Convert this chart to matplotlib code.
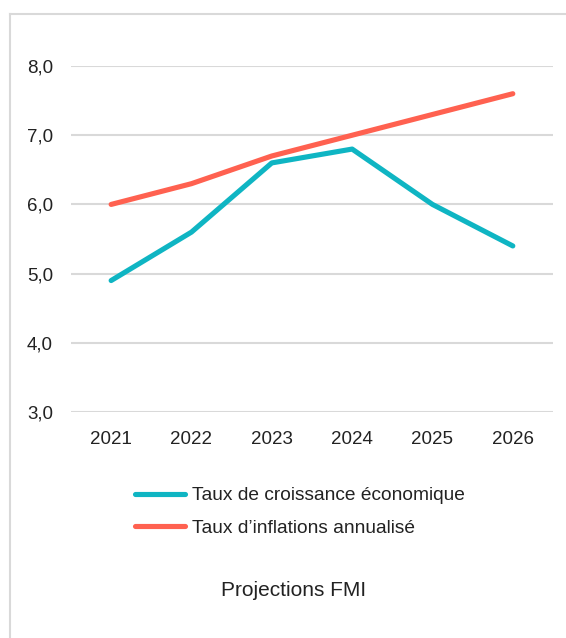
import matplotlib.pyplot as plt
from matplotlib.lines import Line2D

# IMF projections: GDP growth vs. annualised inflation
years = ["2021", "2022", "2023", "2024", "2025", "2026"]
croissance = [4.9, 5.6, 6.6, 6.8, 6.0, 5.4]
inflation = [6.0, 6.3, 6.7, 7.0, 7.3, 7.6]
y_ticks = [3.0, 4.0, 5.0, 6.0, 7.0, 8.0]
y_labels = ["3,0", "4,0", "5,0", "6,0", "7,0", "8,0"]

teal = "#0FB5C3"
coral = "#FF6150"
grid_c = "#D9D9D9"
text_c = "#222222"

plt.rcParams["font.family"] = ["Liberation Sans", "DejaVu Sans"]

fig = plt.figure(figsize=(5.66, 6.38), dpi=100)
ax = fig.add_axes([0.1254, 0.3542, 0.8516, 0.5423])

x = range(len(years))
ax.plot(x, croissance, color=teal, lw=3.7, solid_capstyle="round", zorder=3,
        label="Taux de croissance économique")
ax.plot(x, inflation, color=coral, lw=3.7, solid_capstyle="round", zorder=3,
        label="Taux d\u2019inflations annualisé")

ax.set_xlim(-0.5, len(years) - 0.5)
ax.set_ylim(3.0, 8.0)
ax.set_xticks(list(x))
ax.set_xticklabels(years)
ax.set_yticks(y_ticks)
ax.set_yticklabels(y_labels)
ax.tick_params(length=0, labelsize=13.5, colors=text_c)
ax.tick_params(axis="x", pad=14)
ax.tick_params(axis="y", pad=13)
for s in ax.spines.values():
    s.set_visible(False)
ax.grid(axis="y", color=grid_c, lw=1.5, zorder=0)
ax.set_axisbelow(True)

fig.legend(loc="upper left", bbox_to_anchor=(135 / 566, 1 - 487 / 638), frameon=False,
           fontsize=13.8, handlelength=2.6, handletextpad=0.36,
           labelspacing=0.78, labelcolor=text_c, borderaxespad=0, borderpad=0)

fig.text(294 / 566, 1 - 590 / 638, "Projections FMI", ha="center", va="center",
         fontsize=15, color=text_c)

# light frame on the left and top edges
fig.add_artist(Line2D([10 / 566, 10 / 566], [0, 1 - 14 / 638],
                      transform=fig.transFigure, color=grid_c, lw=1.5))
fig.add_artist(Line2D([10 / 566, 1], [1 - 14 / 638, 1 - 14 / 638],
                      transform=fig.transFigure, color=grid_c, lw=1.5))

fig.savefig("out.png", dpi=100)
